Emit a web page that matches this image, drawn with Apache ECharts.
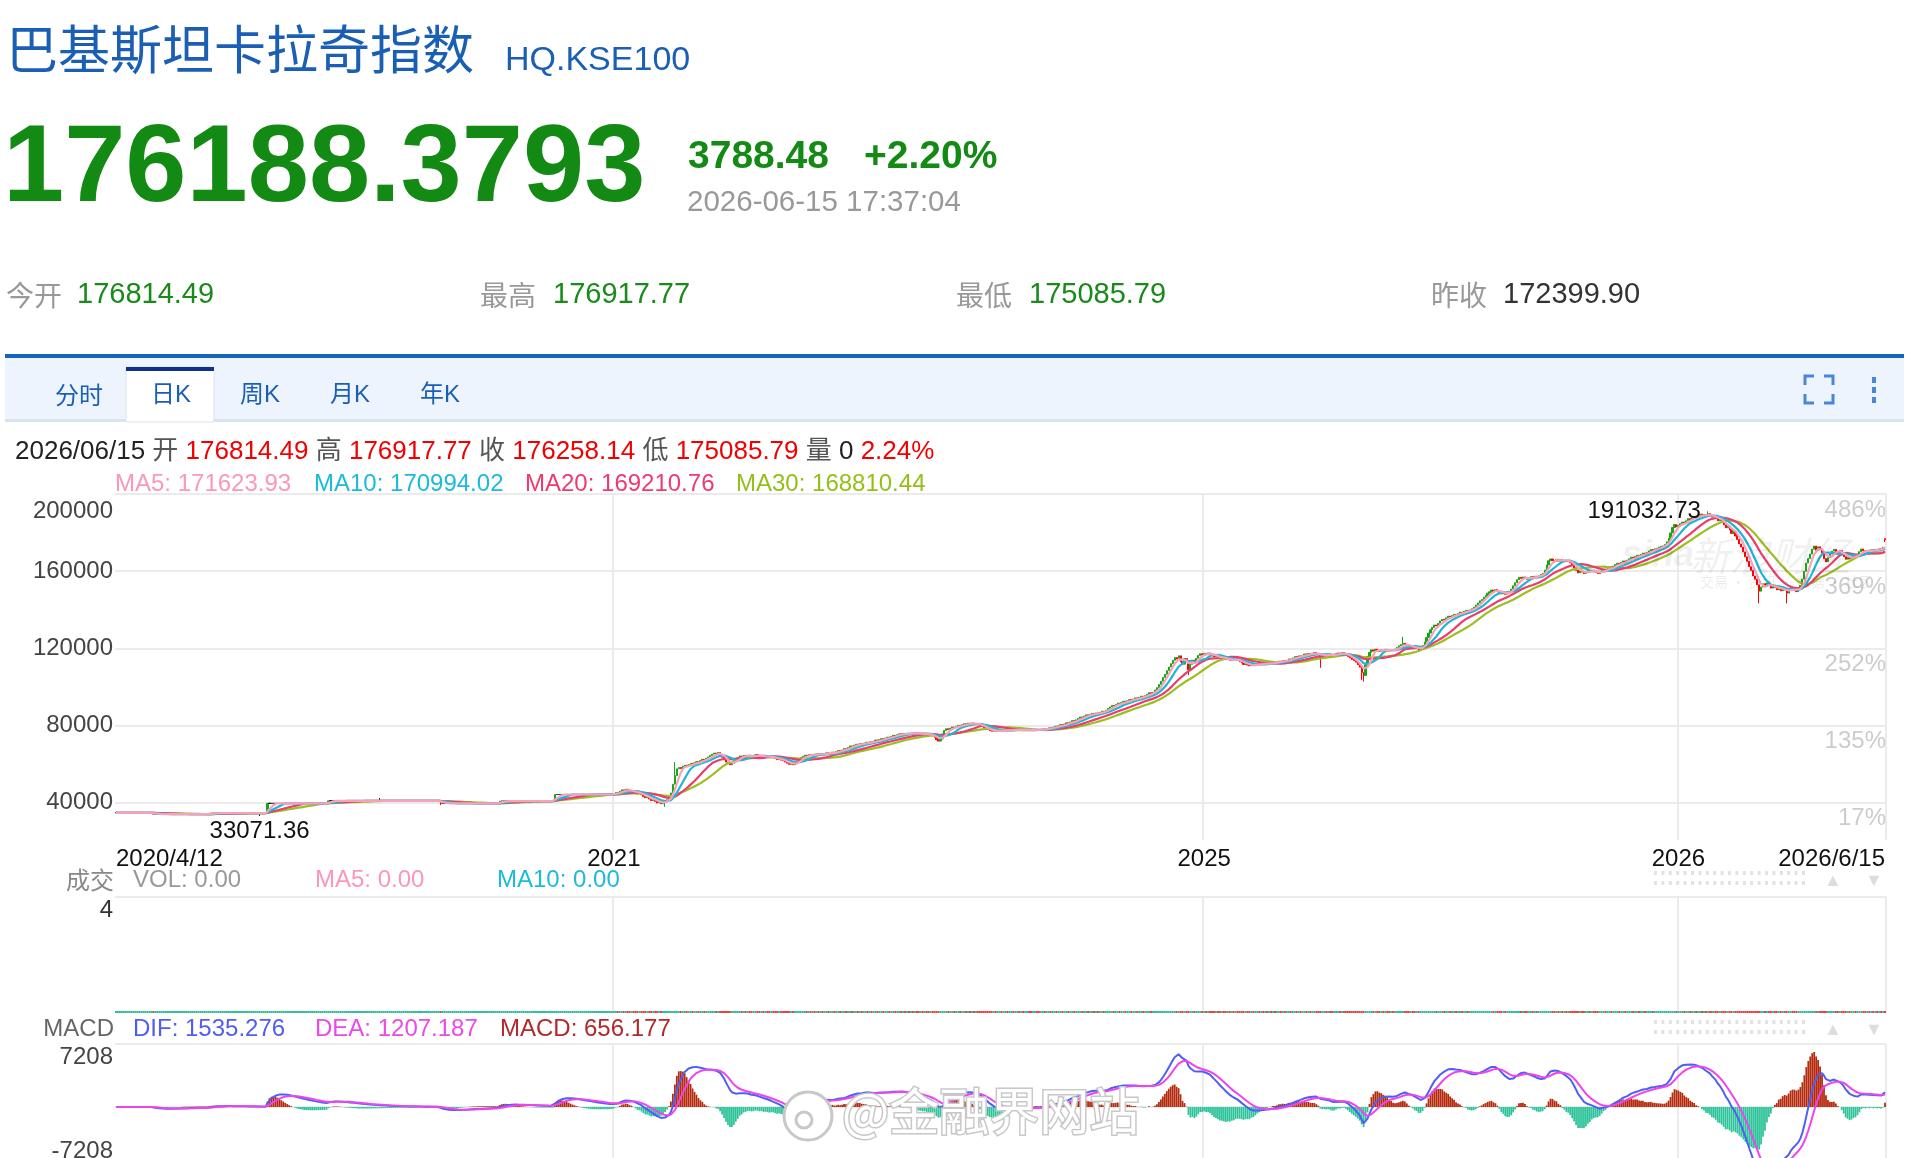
<!DOCTYPE html>
<html>
<head>
<meta charset="utf-8">
<title>巴基斯坦卡拉奇指数 HQ.KSE100</title>
<script src="https://cdn.jsdelivr.net/npm/echarts@6/dist/echarts.min.js"></script>
<style>
html, body { margin: 0; padding: 0; background: #fff; }
#chart { width: 1914px; height: 1158px; }
</style>
</head>
<body>
<div id="chart"></div>
<script>
// 2020/4 - 2020/12: the feed only carries a few distinct closes, each held flat for weeks
// [close, number of days]
var flatRuns = [[34700, 19], [34000, 29], [34500, 29], [39600, 31], [40900, 57], [39600, 30], [40800, 28], [44200, 30]];

// daily closes from the start of 2021 (index 253) to 2026/6/15 (index 899), in thousands
var closes2021 = [
    44.6, 45.3, 44.8, 45.9, 46.6, 46.2, 46.9, 46.4, 45.8, 46.1,
    45.5, 45.0, 44.4, 44.9, 44.0, 43.1, 42.5, 42.9, 41.8, 41.0,
    41.5, 40.6, 39.8, 40.3, 39.4, 40.1, 40.9, 41.5, 42.8, 45.0,
    49.5, 54.0, 57.5, 58.2, 57.6, 58.9, 59.4, 59.0, 59.8, 60.3,
    59.7, 60.6, 61.2, 60.9, 61.8, 62.5, 62.1, 63.0, 63.6, 64.4,
    65.1, 65.7, 65.2, 66.0, 64.8, 63.5, 62.4, 61.0, 60.2, 59.6,
    60.4, 61.8, 62.9, 63.5, 64.2, 63.8, 64.5, 64.0, 64.6, 64.1,
    63.7, 64.3, 64.8, 64.2, 63.9, 64.4, 63.6, 64.1, 63.8, 63.2,
    63.9, 63.4, 62.8, 62.3, 62.9, 62.0, 61.6, 61.0, 60.4, 59.8,
    60.5, 59.6, 60.2, 61.3, 62.5, 63.4, 64.0, 64.6, 64.1, 64.9,
    64.5, 65.0, 64.6, 65.2, 64.8, 65.4, 65.0, 65.3, 65.8, 65.1,
    65.6, 66.2, 65.7, 66.4, 67.0, 66.5, 67.3, 68.0, 67.6, 68.5,
    69.4, 69.0, 69.8, 70.3, 69.9, 70.6, 70.2, 70.9, 71.3, 70.8,
    71.5, 71.1, 71.8, 72.4, 71.9, 72.6, 73.2, 72.8, 73.5, 74.0,
    73.6, 74.3, 74.9, 74.5, 75.2, 75.7, 75.3, 75.8, 75.4, 76.0,
    75.6, 76.1, 75.7, 76.3, 75.9, 75.4, 75.9, 75.5, 75.9, 75.3,
    74.8, 75.2, 74.5, 73.8, 72.6, 71.9, 73.0, 75.6, 77.4, 78.3,
    77.8, 78.6, 79.2, 78.8, 79.5, 80.1, 79.7, 80.4, 80.9, 80.5,
    81.2, 80.8, 81.3, 80.7, 81.0, 80.6, 80.1, 79.5, 78.8, 78.2,
    77.9, 77.3, 77.0, 77.4, 76.9, 77.2, 77.6, 77.1, 77.5, 77.8,
    77.3, 77.6, 77.9, 77.4, 77.7, 78.0, 77.5, 77.8, 77.4, 77.7,
    78.0, 77.6, 77.3, 77.7, 78.1, 77.8, 77.5, 77.9, 78.2, 77.9,
    78.4, 78.8, 78.5, 79.1, 79.6, 79.3, 79.8, 80.4, 80.0, 80.7,
    81.4, 81.0, 81.8, 82.5, 82.1, 82.9, 83.6, 84.4, 84.0, 84.9,
    85.5, 85.1, 85.8, 86.3, 85.9, 86.5, 86.1, 86.8, 87.4, 87.0,
    87.9, 88.8, 89.6, 90.4, 90.0, 90.9, 91.6, 91.2, 91.9, 92.5,
    92.1, 92.8, 93.4, 93.0, 93.7, 94.3, 93.9, 94.6, 95.2, 94.8,
    95.5, 96.2, 97.0, 96.4, 97.3, 98.4, 99.6, 101.2, 102.9, 104.8,
    106.5, 108.4, 110.3, 112.0, 113.8, 115.2, 114.4, 116.1, 113.0, 111.8,
    114.6, 113.5, 108.9, 111.7, 113.9, 112.6, 114.8, 116.3, 117.2, 116.5,
    117.4, 116.8, 117.6, 116.9, 116.2, 115.6, 116.0, 115.3, 114.8, 115.2,
    114.6, 114.1, 114.5, 113.8, 114.3, 113.9, 114.4, 113.7, 113.0, 112.4,
    111.6, 112.1, 111.3, 110.9, 111.5, 111.0, 111.6, 112.0, 111.7, 112.2,
    111.8, 112.4, 112.0, 112.5, 112.1, 112.7, 112.3, 112.9, 113.4, 113.0,
    113.6, 113.2, 113.8, 114.5, 114.1, 115.0, 115.7, 115.3, 116.1, 115.6,
    116.4, 117.0, 116.6, 117.3, 116.9, 117.5, 117.9, 117.2, 116.8, 115.4,
    116.3, 117.0, 116.5, 117.1, 116.4, 115.9, 116.5, 117.2, 117.6, 117.1,
    117.8, 117.3, 116.5, 115.8, 115.0, 114.2, 113.6, 112.8, 111.5, 110.2,
    107.4, 106.0, 111.5, 115.8, 117.9, 119.2, 118.5, 119.6, 119.0, 118.4,
    119.3, 118.8, 119.5, 119.1, 118.6, 119.2, 118.8, 119.6, 120.4, 121.3,
    122.0, 122.6, 121.9, 121.2, 120.6, 121.1, 120.5, 119.8, 120.4, 118.9,
    120.1, 121.5, 123.3, 125.6, 127.9, 129.6, 130.8, 132.1, 131.6, 132.9,
    134.2, 135.0, 134.6, 135.8, 136.7, 136.2, 137.0, 137.6, 137.2, 138.1,
    138.8, 138.4, 139.2, 139.7, 139.3, 139.9, 140.5, 141.3, 142.4, 143.5,
    144.6, 145.3, 146.5, 147.4, 148.6, 149.3, 150.2, 149.6, 150.4, 149.5,
    148.8, 148.2, 148.7, 148.0, 148.6, 149.5, 150.7, 152.4, 154.0, 155.6,
    156.8, 156.2, 157.0, 156.4, 155.8, 156.5, 157.2, 156.7, 157.4, 156.9,
    157.6, 158.3, 158.9, 160.6, 163.2, 165.4, 166.3, 165.5, 165.0, 166.2,
    165.1, 166.0, 164.8, 165.6, 164.9, 165.7, 164.3, 163.0, 161.7, 160.4,
    159.1, 160.2, 159.5, 158.8, 159.6, 160.5, 159.8, 160.6, 159.9, 159.3,
    158.7, 159.4, 160.3, 161.1, 160.5, 161.4, 162.2, 161.6, 162.5, 163.4,
    164.1, 163.6, 164.6, 165.3, 164.8, 165.7, 166.4, 167.2, 166.8, 167.6,
    168.3, 167.9, 168.7, 169.4, 168.9, 169.7, 170.5, 171.2, 170.8, 171.6,
    171.8, 172.4, 172.9, 173.1, 173.9, 175.2, 177.0, 179.8, 182.6, 184.1,
    183.0, 183.8, 184.6, 185.5, 185.0, 186.1, 187.2, 186.6, 187.7, 188.5,
    187.8, 188.9, 189.6, 188.7, 189.3, 188.4, 189.8, 188.9, 188.0, 188.6,
    187.5, 186.1, 186.8, 185.4, 184.0, 182.5, 183.3, 181.4, 179.6, 180.5,
    178.2, 176.4, 174.1, 172.5, 170.0, 167.4, 165.1, 162.3, 160.4, 157.5,
    155.8, 152.9, 149.6, 151.8, 153.5, 152.1, 154.0, 152.6, 151.2, 152.8,
    151.5, 150.3, 151.7, 149.8, 151.0, 150.2, 148.6, 150.4, 151.6, 150.8,
    150.1, 149.4, 150.9, 152.6, 155.8, 159.9, 164.2, 166.5, 168.9, 171.4,
    173.0, 170.8, 172.6, 171.2, 169.6, 166.5, 164.8, 167.0, 168.9, 170.4,
    171.3, 170.2, 169.4, 170.6, 168.8, 167.5, 166.2, 167.1, 166.3, 167.4,
    168.2, 167.6, 168.9, 170.1, 171.5, 170.6, 169.9, 170.8, 170.2, 171.1,
    170.5, 171.3, 170.9, 171.6, 171.0, 172.4, 176.26
];

// candles whose shadow reaches past the body: [index, low, high]
var wicks = [
    [73, 33071.36, null], [134, null, 42300], [165, 38700, null], [279, 37800, null],
    [284, null, 61000], [545, 106100, null], [612, 109900, null], [633, 103600, null],
    [634, 102800, null], [654, null, 126000], [809, null, 191032.73],
    [835, 143300, null], [849, 143300, null]
];

// last session, 2026/06/15
var lastBar = {open: 176814.49, close: 176258.14, low: 175085.79, high: 176917.77};
var prevClose = 172399.90;

// the feed reports no volume
var volumeValue = 0;

var xTicks = {0: '2020/4/12', 253: '2021', 553: '2025', 794: '2026', 899: '2026/6/15'};
var yearLines = [253, 553, 794];
var priceTicks = [40000, 80000, 120000, 160000, 200000];
var pctBase = 34110;
var macdRange = 7208;

// ---- build series ----
var closes = [];
flatRuns.forEach(function (r) {
    for (var k = 0; k < r[1]; k++) closes.push(r[0]);
});
closes2021.forEach(function (v) {
    closes.push(Math.round(v * 1000));
});
closes[closes.length - 1] = lastBar.close;

var cats = closes.map(function (c, i) { return String(i); });

var kline = closes.map(function (c, i) {
    var o = i > 0 ? closes[i - 1] : c;
    return [o, c, Math.min(o, c), Math.max(o, c)];
});
wicks.forEach(function (w) {
    if (w[1] != null) kline[w[0]][2] = w[1];
    if (w[2] != null) kline[w[0]][3] = w[2];
});
kline[kline.length - 1] = [lastBar.open, lastBar.close, lastBar.low, lastBar.high];

function calcMA(n) {
    return closes.map(function (c, i) {
        var s = 0, cnt = 0;
        for (var k = Math.max(0, i - n + 1); k <= i; k++) {
            s += closes[k];
            cnt++;
        }
        return +(s / cnt).toFixed(2);
    });
}

var ma5 = calcMA(5), ma10 = calcMA(10), ma20 = calcMA(20), ma30 = calcMA(30);

var dif = [], dea = [], hist = [];
var e12 = closes[0], e26 = closes[0], d9 = 0;
for (var i = 0; i < closes.length; i++) {
    e12 = e12 * 11 / 13 + closes[i] * 2 / 13;
    e26 = e26 * 25 / 27 + closes[i] * 2 / 27;
    var d = e12 - e26;
    d9 = d9 * 8 / 10 + d * 2 / 10;
    dif.push(+d.toFixed(3));
    dea.push(+d9.toFixed(3));
    hist.push(+(2 * (d - d9)).toFixed(3));
}

var volumes = closes.map(function () { return volumeValue; });

// ---- chart ----
var fontStack = '"Liberation Sans", Arial, "Noto Sans CJK SC", sans-serif';
var cjk = '"Noto Sans CJK SC", sans-serif';
var gridLine = {color: '#ebebeb', width: 2};

function txt(x, y, s, size, color, extra) {
    var st = {text: s, fontSize: size, fontFamily: fontStack, fill: color, verticalAlign: 'middle', align: 'left'};
    if (extra) {
        for (var k in extra) st[k] = extra[k];
    }
    return {type: 'text', x: x, y: y, z: 10, style: st};
}

var elements = [
    txt(6, 49, '巴基斯坦卡拉奇指数', 52, '#1b5fb4', {fontFamily: cjk}),
    txt(505, 61, 'HQ.KSE100', 34, '#1b5fb4'),
    txt(3, 171, '176188.3793', 110, '#138a13', {fontWeight: 'bold'}),
    txt(688, 157, '3788.48', 39, '#138a13', {fontWeight: 'bold'}),
    txt(864, 157, '+2.20%', 39, '#138a13', {fontWeight: 'bold'}),
    txt(687, 203, '2026-06-15 17:37:04', 29.5, '#999'),
    txt(6, 295, '今开', 28, '#999', {fontFamily: cjk}),
    txt(77, 295, '176814.49', 29, '#1a8a1a'),
    txt(480, 295, '最高', 28, '#999', {fontFamily: cjk}),
    txt(553, 295, '176917.77', 29, '#1a8a1a'),
    txt(956, 295, '最低', 28, '#999', {fontFamily: cjk}),
    txt(1029, 295, '175085.79', 29, '#1a8a1a'),
    txt(1431, 295, '昨收', 28, '#999', {fontFamily: cjk}),
    txt(1503, 295, prevClose.toFixed(2), 29, '#333'),
    // tab bar
    {type: 'rect', z: 5, shape: {x: 5, y: 354, width: 1899, height: 4}, style: {fill: '#1565c0'}},
    {type: 'rect', z: 5, shape: {x: 5, y: 358, width: 1899, height: 64}, style: {fill: '#edf4fd'}},
    {type: 'rect', z: 6, shape: {x: 5, y: 419, width: 1899, height: 3}, style: {fill: '#dbe3ee'}},
    {type: 'rect', z: 7, shape: {x: 126, y: 367, width: 88, height: 55}, style: {fill: '#fff', stroke: '#dbe3ee', lineWidth: 1}},
    {type: 'rect', z: 8, shape: {x: 126, y: 367, width: 88, height: 4}, style: {fill: '#10308a'}},
    txt(79, 395, '分时', 24, '#1b5fb4', {align: 'center', fontFamily: cjk}),
    txt(171, 395, '日K', 24, '#1b5fb4', {align: 'center'}),
    txt(260, 395, '周K', 24, '#1b5fb4', {align: 'center'}),
    txt(350, 395, '月K', 24, '#1b5fb4', {align: 'center'}),
    txt(440, 395, '年K', 24, '#1b5fb4', {align: 'center'}),
    // full screen + menu icons
    {type: 'polyline', z: 10, shape: {points: [[1805, 385], [1805, 376], [1814, 376]]}, style: {stroke: '#4a86d8', lineWidth: 3, fill: null}},
    {type: 'polyline', z: 10, shape: {points: [[1824, 376], [1833, 376], [1833, 385]]}, style: {stroke: '#4a86d8', lineWidth: 3, fill: null}},
    {type: 'polyline', z: 10, shape: {points: [[1805, 394], [1805, 403], [1814, 403]]}, style: {stroke: '#4a86d8', lineWidth: 3, fill: null}},
    {type: 'polyline', z: 10, shape: {points: [[1824, 403], [1833, 403], [1833, 394]]}, style: {stroke: '#4a86d8', lineWidth: 3, fill: null}},
    {type: 'rect', z: 10, shape: {x: 1872, y: 377, width: 4, height: 6}, style: {fill: '#4a86d8'}},
    {type: 'rect', z: 10, shape: {x: 1872, y: 387, width: 4, height: 6}, style: {fill: '#4a86d8'}},
    {type: 'rect', z: 10, shape: {x: 1872, y: 397, width: 4, height: 6}, style: {fill: '#4a86d8'}},
    // quote line
    {
        type: 'text', x: 15, y: 452, z: 10,
        style: {
            text: '{d|2026/06/15} {l|开} {r|176814.49} {l|高} {r|176917.77} {l|收} {r|176258.14} {l|低} {r|175085.79} {l|量} {d|0} {r|2.24%}',
            fontSize: 26, fontFamily: fontStack, verticalAlign: 'middle',
            rich: {
                d: {fill: '#222', fontSize: 26, fontFamily: fontStack},
                l: {fill: '#555', fontSize: 26, fontFamily: fontStack},
                r: {fill: '#f00000', fontSize: 26, fontFamily: fontStack}
            }
        }
    },
    txt(115, 484, 'MA5: 171623.93', 24, '#fb98b6'),
    txt(314, 484, 'MA10: 170994.02', 24, '#1cbbd9'),
    txt(525, 484, 'MA20: 169210.76', 24, '#ee3a6f'),
    txt(736, 484, 'MA30: 168810.44', 24, '#94bf1a'),
    // volume legend
    txt(114, 880, '成交', 24, '#888', {align: 'right', fontFamily: cjk}),
    txt(133, 880, 'VOL: 0.00', 24, '#999'),
    txt(315, 880, 'MA5: 0.00', 24, '#fb98b6'),
    txt(497, 880, 'MA10: 0.00', 24, '#1cbbd9'),
    // macd legend
    txt(114, 1029, 'MACD', 24, '#666', {align: 'right'}),
    txt(133, 1029, 'DIF: 1535.276', 24, '#4f5df2'),
    txt(315, 1029, 'DEA: 1207.187', 24, '#ea4aea'),
    txt(500, 1029, 'MACD: 656.177', 24, '#b3282a'),
    // sina watermark
    txt(1622, 556, 'sina', 36, 'rgba(0,0,0,0.06)', {fontWeight: 'bold', fontStyle: 'italic'}),
    txt(1690, 556, '新浪财经', 40, 'rgba(0,0,0,0.06)', {fontFamily: cjk, fontStyle: 'italic'}),
    txt(1700, 582, '交易 · 资讯 · 数据 · 社区', 14, 'rgba(0,0,0,0.08)', {fontFamily: cjk}),
    // weibo watermark
    {type: 'circle', z: 100, shape: {cx: 808, cy: 1116, r: 24}, style: {fill: '#fff', stroke: '#c8c8c8', lineWidth: 3}},
    {type: 'circle', z: 101, shape: {cx: 804, cy: 1120, r: 8}, style: {fill: '#fff', stroke: '#c8c8c8', lineWidth: 3}},
    txt(842, 1111, '@金融界网站', 50, '#fff', {fontFamily: cjk, stroke: '#c8c8c8', lineWidth: 3})
];
elements[elements.length - 1].z = 102;

// scroller dots and arrows on the sub-panel legends
[879, 1028].forEach(function (y) {
    for (var k = 0; k < 21; k++) {
        elements.push({type: 'rect', z: 10, shape: {x: 1654 + k * 7.4, y: y - 8, width: 3, height: 4}, style: {fill: '#e2e2e2'}});
        elements.push({type: 'rect', z: 10, shape: {x: 1654 + k * 7.4, y: y + 2, width: 3, height: 4}, style: {fill: '#e2e2e2'}});
    }
    elements.push(txt(1833, y + 2, '▲', 18, '#ddd', {align: 'center'}));
    elements.push(txt(1874, y + 2, '▼', 18, '#ddd', {align: 'center'}));
});

function xAxisFor(g) {
    return {
        type: 'category',
        gridIndex: g,
        data: cats,
        boundaryGap: true,
        axisLine: {show: false},
        axisTick: {show: false, alignWithLabel: true},
        axisLabel: g === 0 ? {
            interval: function (idx) { return xTicks[idx] !== undefined; },
            formatter: function (v, idx) { return xTicks[idx] || ''; },
            color: '#111', fontSize: 24, fontFamily: fontStack, margin: 7,
            alignMinLabel: 'left', alignMaxLabel: 'right'
        } : {show: false},
        splitLine: {
            show: true,
            interval: function (idx) { return yearLines.indexOf(idx) >= 0; },
            lineStyle: gridLine
        }
    };
}

var chart = echarts.init(document.getElementById('chart'));

var option = {
    animation: false,
    backgroundColor: '#fff',
    textStyle: {fontFamily: fontStack},
    graphic: {elements: elements},
    grid: [
        {left: 115, right: 28, top: 494, height: 346, outerBoundsMode: 'none'},
        {left: 115, right: 28, top: 897, height: 116, outerBoundsMode: 'none'},
        {left: 115, right: 28, top: 1044, height: 126, outerBoundsMode: 'none'}
    ],
    xAxis: [xAxisFor(0), xAxisFor(1), xAxisFor(2)],
    yAxis: [
        {
            gridIndex: 0, type: 'value', min: 20600, max: 200000, position: 'left', scale: true,
            axisLine: {show: false},
            axisTick: {show: false, customValues: priceTicks},
            axisLabel: {
                customValues: priceTicks, margin: 2, color: '#444', fontSize: 24, fontFamily: fontStack,
                formatter: function (v) { return v === 200000 ? '{top|200000}' : String(v); },
                rich: {top: {padding: [34, 0, 0, 0], fontSize: 24, color: '#444', fontFamily: fontStack}}
            },
            splitLine: {show: true, lineStyle: gridLine}
        },
        {
            gridIndex: 0, type: 'value', min: 20600, max: 200000, position: 'right', scale: true,
            axisLine: {show: false},
            axisTick: {show: false, customValues: priceTicks},
            axisLabel: {
                customValues: priceTicks, inside: true, margin: 0, verticalAlign: 'top',
                padding: [4, 0, 0, 0],
                color: '#cccccc', fontSize: 24, fontFamily: fontStack,
                formatter: function (v) { return Math.round((v / pctBase - 1) * 100) + '%'; }
            },
            splitLine: {show: false}
        },
        {
            gridIndex: 1, type: 'value', min: 0, max: 4,
            axisLine: {show: false},
            axisTick: {show: false, customValues: [4]},
            axisLabel: {
                customValues: [4], margin: 2, color: '#333', fontSize: 24, fontFamily: fontStack,
                formatter: function (v) { return '{top|' + v + '}'; },
                rich: {top: {padding: [26, 0, 0, 0], fontSize: 24, color: '#333', fontFamily: fontStack}}
            },
            splitLine: {show: true, lineStyle: gridLine}
        },
        {
            gridIndex: 2, type: 'value', min: -macdRange, max: macdRange,
            axisLine: {show: false},
            axisTick: {show: false, customValues: [-macdRange, 0, macdRange]},
            axisLabel: {
                customValues: [-macdRange, 0, macdRange], margin: 2, color: '#444', fontSize: 24, fontFamily: fontStack,
                formatter: function (v) {
                    if (v > 0) return '{top|' + v + '}';
                    if (v < 0) return '{bot|' + v + '}';
                    return '';
                },
                rich: {
                    top: {padding: [26, 0, 0, 0], fontSize: 24, color: '#444', fontFamily: fontStack},
                    bot: {padding: [0, 0, 37, 0], fontSize: 24, color: '#444', fontFamily: fontStack}
                }
            },
            splitLine: {show: true, lineStyle: gridLine}
        }
    ],
    series: [
        {
            name: 'K', type: 'candlestick', xAxisIndex: 0, yAxisIndex: 0,
            data: kline, large: false, barWidth: 1.6,
            itemStyle: {
                color: '#14a814', color0: '#ff0000',
                borderColor: '#14a814', borderColor0: '#ff0000', borderColorDoji: '#000',
                borderWidth: 1
            },
            markPoint: {
                symbol: 'circle', symbolSize: 2,
                itemStyle: {color: 'rgba(0,0,0,0)'},
                label: {
                    color: '#111', fontSize: 24, fontFamily: fontStack,
                    formatter: function (p) { return Number(p.value).toFixed(2); }
                },
                data: [
                    {type: 'max', valueDim: 'highest', label: {position: 'left', distance: 6}},
                    {type: 'min', valueDim: 'lowest', label: {position: 'bottom', distance: 2}}
                ]
            }
        },
        {name: 'MA30', type: 'line', data: ma30, showSymbol: false, lineStyle: {width: 2.2, color: '#9bbf1e'}, itemStyle: {color: '#9bbf1e'}},
        {name: 'MA20', type: 'line', data: ma20, showSymbol: false, lineStyle: {width: 2.2, color: '#ec3b6e'}, itemStyle: {color: '#ec3b6e'}},
        {name: 'MA10', type: 'line', data: ma10, showSymbol: false, lineStyle: {width: 2.2, color: '#1ab8d6'}, itemStyle: {color: '#1ab8d6'}},
        {name: 'MA5', type: 'line', data: ma5, showSymbol: false, lineStyle: {width: 2.2, color: '#f9a0bd'}, itemStyle: {color: '#f9a0bd'}},
        {
            name: 'VOL', type: 'bar', xAxisIndex: 1, yAxisIndex: 2, data: volumes,
            barMinHeight: 2, barCategoryGap: '0%',
            itemStyle: {
                color: function (p) {
                    var k = kline[p.dataIndex];
                    return k[1] < k[0] ? '#e8403c' : '#2ebf94';
                }
            }
        },
        {
            name: 'MACD', type: 'bar', xAxisIndex: 2, yAxisIndex: 3, data: hist,
            barCategoryGap: '10%',
            itemStyle: {
                color: function (p) { return p.value >= 0 ? '#b5290c' : '#2ec49a'; }
            }
        },
        {name: 'DIF', type: 'line', xAxisIndex: 2, yAxisIndex: 3, data: dif, showSymbol: false, lineStyle: {width: 2, color: '#4e5ff5'}},
        {name: 'DEA', type: 'line', xAxisIndex: 2, yAxisIndex: 3, data: dea, showSymbol: false, lineStyle: {width: 2, color: '#ee44ee'}}
    ]
};

chart.setOption(option);
</script>
</body>
</html>
